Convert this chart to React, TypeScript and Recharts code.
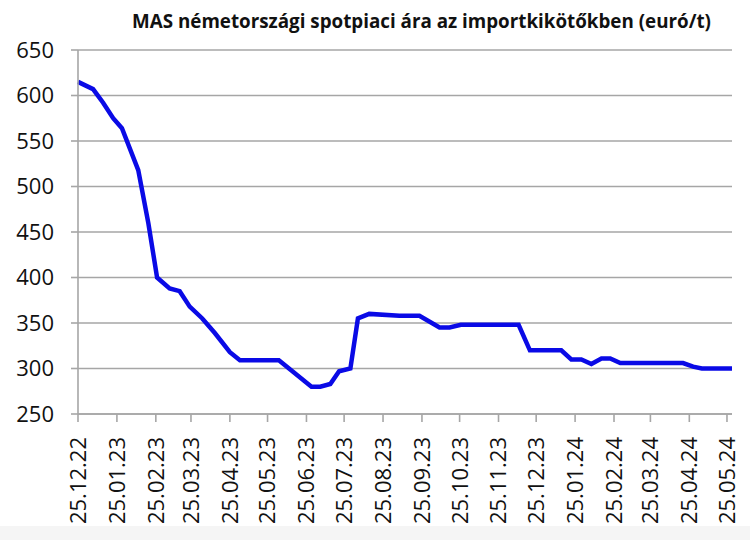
import React from "react";
import { LineChart, Line, XAxis, YAxis, CartesianGrid } from "recharts";

const title = "MAS németországi spotpiaci ára az importkikötőkben (euró/t)";

const dates = [
  "2022-12-25", "2023-01-06", "2023-01-14", "2023-01-22", "2023-01-29",
  "2023-02-11", "2023-02-19", "2023-02-26", "2023-03-08", "2023-03-16",
  "2023-03-24", "2023-04-03", "2023-04-13", "2023-04-25", "2023-05-03",
  "2023-06-03", "2023-06-29", "2023-07-06", "2023-07-14", "2023-07-21",
  "2023-07-30", "2023-08-05", "2023-08-14", "2023-09-07", "2023-09-23",
  "2023-10-09", "2023-10-17", "2023-10-26", "2023-12-11", "2023-12-20",
  "2024-01-14", "2024-01-22", "2024-01-30", "2024-02-07", "2024-02-15",
  "2024-02-22", "2024-03-01", "2024-04-20", "2024-04-28", "2024-05-05",
  "2024-05-29",
];

const prices = [
  615, 607, 592, 575, 564,
  518, 460, 400, 388, 385,
  368, 355, 339, 318, 309,
  309, 280, 280, 283, 297,
  300, 355, 360, 358, 358,
  345, 345, 348, 348, 320,
  320, 310, 310, 305, 311,
  311, 306, 306, 302, 300,
  300,
];

const tickDates = [
  "2022-12-25", "2023-01-25", "2023-02-25", "2023-03-25", "2023-04-25",
  "2023-05-25", "2023-06-25", "2023-07-25", "2023-08-25", "2023-09-25",
  "2023-10-25", "2023-11-25", "2023-12-25", "2024-01-25", "2024-02-25",
  "2024-03-25", "2024-04-25", "2024-05-25",
];

const tickLabels = [
  "25.12.22", "25.01.23", "25.02.23", "25.03.23", "25.04.23",
  "25.05.23", "25.06.23", "25.07.23", "25.08.23", "25.09.23",
  "25.10.23", "25.11.23", "25.12.23", "25.01.24", "25.02.24",
  "25.03.24", "25.04.24", "25.05.24",
];

const yTicks = [250, 300, 350, 400, 450, 500, 550, 600, 650];

const toTime = (s: string) => Date.parse(s + "T00:00:00Z");

const data = dates.map((d, i) => ({ t: toTime(d), v: prices[i] }));
const xTicks = tickDates.map(toTime);
const labelByTime: Record<number, string> = {};
xTicks.forEach((t, i) => {
  labelByTime[t] = tickLabels[i];
});

const XTick = (props: any) => {
  const { x, y, payload } = props;
  return (
    <g transform={`translate(${x},${y})`}>
      <text
        transform="rotate(-90)"
        x={-13}
        y={0}
        dy="0.36em"
        textAnchor="end"
        fill="#111"
        fontSize={22}
        fontFamily="'Open Sans', sans-serif"
      >
        {labelByTime[payload.value]}
      </text>
    </g>
  );
};

export default function App() {
  return (
    <div
      style={{
        position: "absolute",
        left: 0,
        top: 0,
        width: 750,
        height: 540,
        background: "#fff",
      }}
    >
      <div
        style={{
          position: "absolute",
          left: 0,
          top: 526,
          width: 750,
          height: 14,
          background: "#f5f5f5",
        }}
      />
      <div
        style={{
          position: "absolute",
          left: 0,
          top: 8,
          width: 843,
          textAlign: "center",
          fontFamily: "'Open Sans', sans-serif",
          fontWeight: 700,
          fontSize: 18.8,
          color: "#111",
          whiteSpace: "nowrap",
        }}
      >
        {title}
      </div>
      <div style={{ position: "absolute", left: 0, top: 0 }}>
        <LineChart
          width={750}
          height={540}
          data={data}
          margin={{ top: 50, right: 18, left: 0, bottom: 0 }}
        >
          <CartesianGrid
            vertical={false}
            stroke="#a6a6a6"
            strokeWidth={1.6}
          />
          <XAxis
            dataKey="t"
            type="number"
            scale="time"
            domain={[toTime("2022-12-25"), toTime("2024-05-29")]}
            ticks={xTicks}
            tick={<XTick />}
            interval={0}
            height={126}
            stroke="#a6a6a6"
            strokeWidth={1.6}
            tickSize={8}
          />
          <YAxis
            domain={[250, 650]}
            ticks={yTicks}
            interval={0}
            width={78}
            stroke="#a6a6a6"
            strokeWidth={1.6}
            tickSize={7}
            tickMargin={17}
            tick={{
              fill: "#111",
              fontSize: 22,
              fontFamily: "'Open Sans', sans-serif",
            }}
          />
          <Line
            type="linear"
            dataKey="v"
            stroke="#0a0ae6"
            strokeWidth={4.5}
            dot={false}
            isAnimationActive={false}
          />
        </LineChart>
      </div>
    </div>
  );
}
